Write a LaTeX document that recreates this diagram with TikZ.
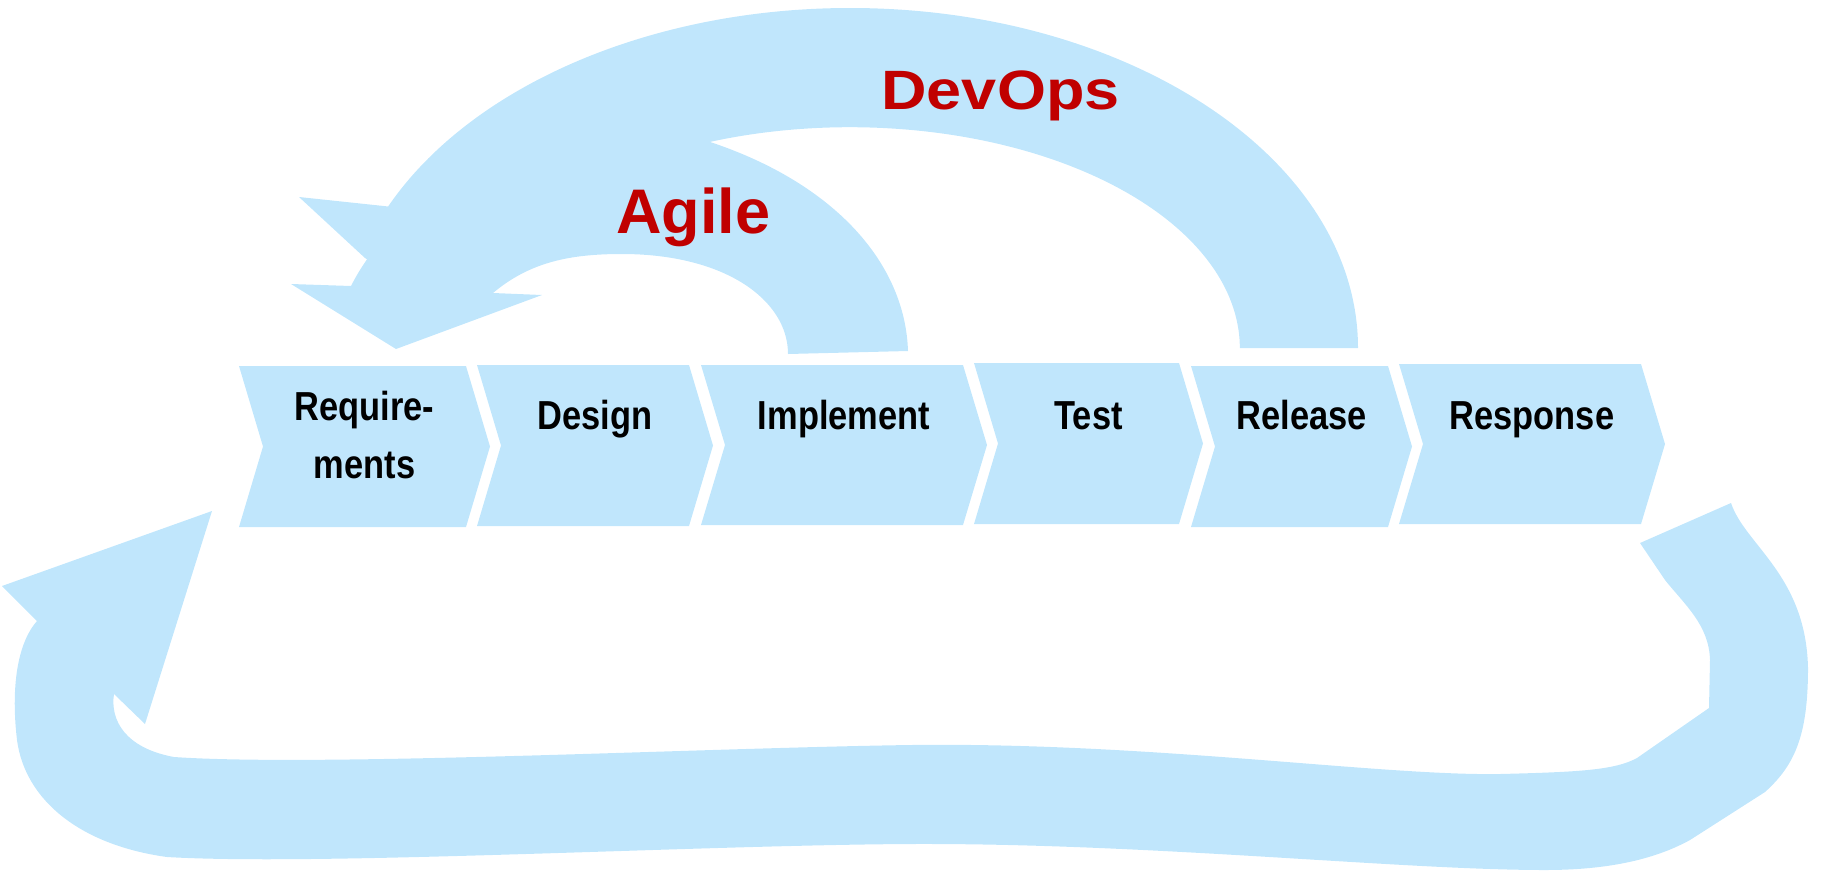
\documentclass[tikz,border=0pt]{standalone}
\usepackage{fontspec}
\setmainfont{Liberation Sans}
\newfontfamily\condfont{Liberation Sans}[FakeStretch=0.85]
\definecolor{flow}{RGB}{192,230,252}
\definecolor{methred}{RGB}{192,0,0}
\tikzset{
  band/.style={fill=flow, draw=none},
  stage/.style={fill=flow, draw=none},
  stagelabel/.style={font=\condfont\bfseries\fontsize{40.5}{58}\selectfont, anchor=base, inner sep=0pt},
  methodlabel/.style={font=\bfseries\fontsize{63}{63}\selectfont, text=methred, anchor=base, inner sep=0pt},
}
\newcommand\chevshape[4]{%
  \path[stage] (#1,#3) -- (#2,#3) -- ({#2+24},{(#3+#4)/2}) -- (#2,#4) -- (#1,#4) -- ({#1+24},{(#3+#4)/2}) -- cycle;}
\begin{document}
\begin{tikzpicture}[x=1pt,y=-1pt]
\useasboundingbox (0,0) rectangle (1822,871);

% DevOps arc arrow
\path[band] (1358,348) arc[start angle=0, end angle=-155.4, x radius=508, y radius=340]
  -- (299,197) -- (365,258) -- (430,300) -- (500,230) -- (705,143)
  arc[start angle=-111.8, end angle=0, x radius=390, y radius=221] -- cycle;

% Agile arc arrow
\path[band] (908,351) .. controls (905,260) and (830,180) .. (704,140)
  .. controls (620,113) and (420,150) .. (351,286)
  -- (291,284) -- (396,349) -- (542,295) -- (493,293)
  .. controls (530,262) and (570,254) .. (622,254)
  .. controls (725,254) and (788,300) .. (788,354) -- cycle;

% feedback loop arrow
\path[band] (1731,503) .. controls (1745,545) and (1806,575) .. (1808,668)
  .. controls (1808,735) and (1795,765) .. (1765,792)
  -- (1690,840)
  .. controls (1650,862) and (1600,870) .. (1545,870)
  .. controls (1400,870) and (1150,843) .. (911,844)
  .. controls (700,845) and (320,866) .. (167,857)
  .. controls (80,845) and (25,800) .. (17,740)
  .. controls (10,680) and (20,640) .. (37,621)
  -- (2,586) -- (212,511) -- (145,724) -- (114,694)
  .. controls (110,720) and (125,748) .. (174,757)
  .. controls (320,767) and (700,748) .. (911,745)
  .. controls (1150,742) and (1380,776) .. (1500,774)
  .. controls (1580,772) and (1615,770) .. (1637,758)
  -- (1709,708) -- (1710,660)
  .. controls (1709,625) and (1685,605) .. (1665,580)
  -- (1640,543) -- cycle;

% stages
\chevshape{239}{466}{366}{527}
\chevshape{477}{689}{365}{526}
\chevshape{701}{963}{365}{525}
\chevshape{974}{1179}{363}{524}
\chevshape{1191}{1388}{366}{527}
\chevshape{1399}{1641}{364}{524}

\node[stagelabel] (req) at (364.5,420) {\begin{tabular}[t]{@{}c@{}}Require-\\ments\end{tabular}};
\node[stagelabel] (des) at (595,429) {Design};
\node[stagelabel] (imp) at (844,429) {Implement};
\node[stagelabel] (tst) at (1088.5,429) {Test};
\node[stagelabel] (rel) at (1301.5,429) {Release};
\node[stagelabel] (rsp) at (1532,429) {Response};

\node[methodlabel] (agile) at (693.5,233) {Agile};
\node[methodlabel] (devops) at (1000.5,109) {\scalebox{1}[0.88]{DevOps}};
\end{tikzpicture}
\end{document}
